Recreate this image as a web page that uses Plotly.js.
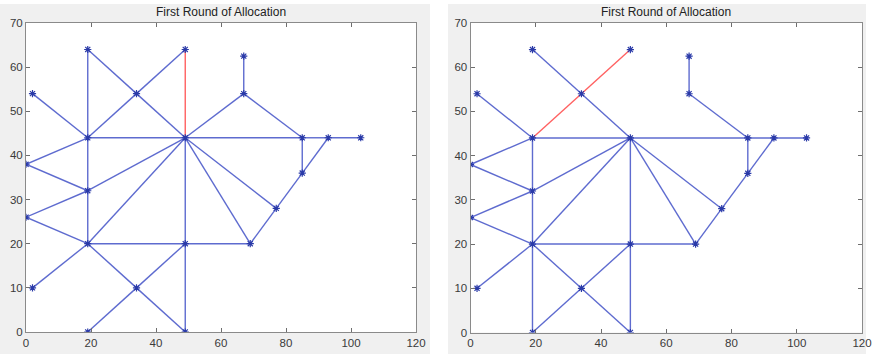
<!DOCTYPE html>
<html>
<head>
<meta charset="utf-8">
<script src="https://cdn.plot.ly/plotly-3.0.1.min.js"></script>
<style>
html,body{margin:0;padding:0;background:#ffffff;}
#chart{width:874px;height:354px;}
</style>
</head>
<body>
<div id="chart"></div>
<script>
// Node coordinates (shared by both panels)
const nodeX = [19, 49, 34, 2, 67, 67, 19, 49, 85, 93, 103, 0, 19, 85, 77, 0, 19, 49, 69, 2, 34, 19, 49];
const nodeY = [64, 64, 54, 54, 62.5, 54, 44, 44, 44, 44, 44, 38, 32, 36, 28, 26, 20, 20, 20, 10, 10, 0, 0];

// Edges (pairs of node indices)
const edgesLeft = [
  [0,6],[0,2],[2,7],[2,6],[1,2],[4,5],[5,7],[5,8],[3,6],[6,7],[7,8],[8,9],[9,10],
  [8,13],[9,13],[13,14],[14,18],[11,6],[11,12],[6,12],[12,16],[12,7],[15,12],[15,16],
  [16,7],[7,17],[17,22],[7,14],[7,18],[16,17],[17,18],[19,16],[16,20],[20,22],[20,21],[20,17]
];
const redLeft = [[1,7]];

const edgesRight = [
  [0,2],[2,7],[4,5],[5,8],[3,6],[6,7],[7,8],[8,9],[9,10],
  [8,13],[9,13],[13,14],[14,18],[11,6],[11,12],[6,12],[12,16],[16,21],[12,7],[15,12],[15,16],
  [16,7],[7,17],[17,22],[7,14],[7,18],[16,17],[17,18],[19,16],[16,20],[20,22],[20,21],[20,17]
];
const redRight = [[1,2],[2,6]];

const panelTitle = "First Round of Allocation";
const xTicks = [0, 20, 40, 60, 80, 100, 120];
const yTicks = [0, 10, 20, 30, 40, 50, 60, 70];

function segs(edges){
  const x=[], y=[];
  edges.forEach(e=>{ x.push(nodeX[e[0]], nodeX[e[1]], null); y.push(nodeY[e[0]], nodeY[e[1]], null); });
  return {x, y};
}

const blue = 'rgba(72,86,200,0.88)';
const red = 'rgba(255,80,80,0.9)';
const mark = {symbol:'asterisk-open', size:6, color:'#2a3aa8', line:{color:'#2a3aa8', width:1.2}};

function panelTraces(edges, reds, xa, ya){
  const b = segs(edges), r = segs(reds);
  return [
    {x:b.x, y:b.y, xaxis:xa, yaxis:ya, mode:'lines', line:{color:blue, width:1.4}, hoverinfo:'skip', showlegend:false},
    {x:r.x, y:r.y, xaxis:xa, yaxis:ya, mode:'lines', line:{color:red, width:1.4}, hoverinfo:'skip', showlegend:false},
    {x:nodeX, y:nodeY, xaxis:xa, yaxis:ya, mode:'markers', marker:mark, hoverinfo:'skip', showlegend:false}
  ];
}

const traces = [].concat(panelTraces(edgesLeft, redLeft, 'x', 'y'), panelTraces(edgesRight, redRight, 'x2', 'y2'));

const W=874, H=354;
const px = v => v/W, py = v => 1 - v/H;

const axBase = {
  range:[0,120], tickvals:xTicks, ticks:'inside', ticklen:4, tickcolor:'#6e6e6e',
  showline:true, linecolor:'#8a8a8a', linewidth:1, mirror:'ticks',
  showgrid:false, zeroline:false, fixedrange:true,
  tickfont:{family:'Liberation Sans, Arial, sans-serif', size:11.5, color:'#3a3a3a'}
};
const ayBase = Object.assign({}, axBase, {range:[0,70], tickvals:yTicks});

const layout = {
  width:W, height:H,
  margin:{l:0, r:0, t:0, b:0},
  paper_bgcolor:'#f0f0f0', plot_bgcolor:'#ffffff',
  xaxis: Object.assign({}, axBase, {domain:[px(26), px(416)], anchor:'y'}),
  yaxis: Object.assign({}, ayBase, {domain:[py(332), py(23)], anchor:'x'}),
  xaxis2: Object.assign({}, axBase, {domain:[px(470.5), px(862)], anchor:'y2'}),
  yaxis2: Object.assign({}, ayBase, {domain:[py(332.5), py(23)], anchor:'x2'}),
  shapes:[
    {type:'rect', xref:'paper', yref:'paper', x0:px(430), x1:px(448), y0:0, y1:1, fillcolor:'#ffffff', line:{width:0}, layer:'below'},
    {type:'rect', xref:'paper', yref:'paper', x0:px(866), x1:1, y0:0, y1:1, fillcolor:'#ffffff', line:{width:0}, layer:'below'},
    {type:'rect', xref:'paper', yref:'paper', x0:0, x1:1, y0:py(4), y1:1, fillcolor:'#ffffff', line:{width:0}, layer:'below'}
  ],
  annotations:[
    {text:panelTitle, xref:'paper', yref:'paper', x:px(221), y:py(12), xanchor:'center', yanchor:'middle', showarrow:false,
     font:{family:'Liberation Sans, Arial, sans-serif', size:12, color:'#222222'}},
    {text:panelTitle, xref:'paper', yref:'paper', x:px(666), y:py(12), xanchor:'center', yanchor:'middle', showarrow:false,
     font:{family:'Liberation Sans, Arial, sans-serif', size:12, color:'#222222'}}
  ]
};

Plotly.newPlot('chart', traces, layout, {staticPlot:true, displayModeBar:false});
</script>
</body>
</html>
